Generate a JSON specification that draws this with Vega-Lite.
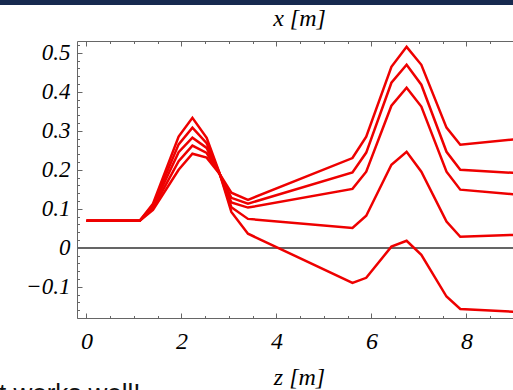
{
  "$schema": "https://vega.github.io/schema/vega-lite/v6.json",
  "width": 436,
  "height": 277,
  "autosize": {"type": "none"},
  "padding": {"left": 77, "top": 41, "right": 0, "bottom": 72},
  "background": "white",
  "title": {
    "text": "t works well!",
    "orient": "bottom",
    "anchor": "start",
    "frame": "group",
    "font": "Liberation Sans, Arial, sans-serif",
    "fontSize": 26,
    "fontWeight": "normal",
    "color": "#111111",
    "baseline": "alphabetic",
    "dx": -78,
    "offset": 13
  },
  "config": {
    "view": {"stroke": null},
    "axis": {
      "domainColor": "#666666",
      "tickColor": "#666666",
      "grid": false,
      "labelFont": "'Liberation Serif', 'Times New Roman', serif",
      "labelFontStyle": "italic",
      "labelColor": "#000000",
      "titleFont": "'Liberation Serif', 'Times New Roman', serif",
      "titleFontStyle": "italic",
      "titleFontWeight": "normal",
      "titleColor": "#000000",
      "titleFontSize": 24
    }
  },
  "data": {
    "values": [
      {"curve": "A", "z": 0, "x": 0.069}, {"curve": "A", "z": 1.12, "x": 0.069}, {"curve": "A", "z": 1.4, "x": 0.113}, {"curve": "A", "z": 1.94, "x": 0.285}, {"curve": "A", "z": 2.23, "x": 0.333}, {"curve": "A", "z": 2.53, "x": 0.282}, {"curve": "A", "z": 2.8, "x": 0.192}, {"curve": "A", "z": 3.05, "x": 0.092}, {"curve": "A", "z": 3.4, "x": 0.036}, {"curve": "A", "z": 5.6, "x": -0.09}, {"curve": "A", "z": 5.89, "x": -0.077}, {"curve": "A", "z": 6.42, "x": 0.003}, {"curve": "A", "z": 6.74, "x": 0.018}, {"curve": "A", "z": 7.05, "x": -0.018}, {"curve": "A", "z": 7.58, "x": -0.125}, {"curve": "A", "z": 7.87, "x": -0.157}, {"curve": "A", "z": 9.0, "x": -0.164},
      {"curve": "B", "z": 0, "x": 0.069}, {"curve": "B", "z": 1.12, "x": 0.069}, {"curve": "B", "z": 1.4, "x": 0.109}, {"curve": "B", "z": 1.94, "x": 0.265}, {"curve": "B", "z": 2.23, "x": 0.308}, {"curve": "B", "z": 2.53, "x": 0.268}, {"curve": "B", "z": 2.8, "x": 0.191}, {"curve": "B", "z": 3.05, "x": 0.104}, {"curve": "B", "z": 3.4, "x": 0.074}, {"curve": "B", "z": 5.6, "x": 0.051}, {"curve": "B", "z": 5.89, "x": 0.082}, {"curve": "B", "z": 6.42, "x": 0.213}, {"curve": "B", "z": 6.74, "x": 0.246}, {"curve": "B", "z": 7.05, "x": 0.195}, {"curve": "B", "z": 7.58, "x": 0.067}, {"curve": "B", "z": 7.87, "x": 0.028}, {"curve": "B", "z": 9.0, "x": 0.033},
      {"curve": "C", "z": 0, "x": 0.069}, {"curve": "C", "z": 1.12, "x": 0.069}, {"curve": "C", "z": 1.4, "x": 0.105}, {"curve": "C", "z": 1.94, "x": 0.245}, {"curve": "C", "z": 2.23, "x": 0.282}, {"curve": "C", "z": 2.53, "x": 0.256}, {"curve": "C", "z": 2.8, "x": 0.19}, {"curve": "C", "z": 3.05, "x": 0.116}, {"curve": "C", "z": 3.4, "x": 0.103}, {"curve": "C", "z": 5.6, "x": 0.151}, {"curve": "C", "z": 5.89, "x": 0.195}, {"curve": "C", "z": 6.42, "x": 0.364}, {"curve": "C", "z": 6.74, "x": 0.41}, {"curve": "C", "z": 7.05, "x": 0.362}, {"curve": "C", "z": 7.58, "x": 0.195}, {"curve": "C", "z": 7.87, "x": 0.149}, {"curve": "C", "z": 9.0, "x": 0.137},
      {"curve": "D", "z": 0, "x": 0.069}, {"curve": "D", "z": 1.12, "x": 0.069}, {"curve": "D", "z": 1.4, "x": 0.101}, {"curve": "D", "z": 1.94, "x": 0.222}, {"curve": "D", "z": 2.23, "x": 0.262}, {"curve": "D", "z": 2.53, "x": 0.243}, {"curve": "D", "z": 2.8, "x": 0.19}, {"curve": "D", "z": 3.05, "x": 0.128}, {"curve": "D", "z": 3.4, "x": 0.113}, {"curve": "D", "z": 5.6, "x": 0.193}, {"curve": "D", "z": 5.89, "x": 0.244}, {"curve": "D", "z": 6.42, "x": 0.423}, {"curve": "D", "z": 6.74, "x": 0.469}, {"curve": "D", "z": 7.05, "x": 0.418}, {"curve": "D", "z": 7.58, "x": 0.246}, {"curve": "D", "z": 7.87, "x": 0.2}, {"curve": "D", "z": 9.0, "x": 0.192},
      {"curve": "E", "z": 0, "x": 0.069}, {"curve": "E", "z": 1.12, "x": 0.069}, {"curve": "E", "z": 1.4, "x": 0.097}, {"curve": "E", "z": 1.94, "x": 0.2}, {"curve": "E", "z": 2.23, "x": 0.241}, {"curve": "E", "z": 2.53, "x": 0.231}, {"curve": "E", "z": 2.8, "x": 0.19}, {"curve": "E", "z": 3.05, "x": 0.141}, {"curve": "E", "z": 3.4, "x": 0.123}, {"curve": "E", "z": 5.6, "x": 0.23}, {"curve": "E", "z": 5.89, "x": 0.285}, {"curve": "E", "z": 6.42, "x": 0.464}, {"curve": "E", "z": 6.74, "x": 0.515}, {"curve": "E", "z": 7.05, "x": 0.469}, {"curve": "E", "z": 7.58, "x": 0.308}, {"curve": "E", "z": 7.87, "x": 0.264}, {"curve": "E", "z": 9.0, "x": 0.278}
    ]
  },
  "resolve": {"axis": {"x": "independent", "y": "independent"}},
  "layer": [
    {
      "mark": {"type": "rect", "color": "#172a4f", "clip": false},
      "encoding": {
        "x": {"datum": -3, "type": "quantitative", "scale": {"domain": [-0.2, 8.98], "nice": false, "zero": false}, "axis": null},
        "x2": {"datum": 12},
        "y": {"datum": 0.64, "type": "quantitative", "scale": {"domain": [-0.18, 0.53], "nice": false, "zero": false}, "axis": null},
        "y2": {"datum": 0.623}
      }
    },
    {
      "mark": {"type": "rule", "color": "#666666", "strokeWidth": 1},
      "encoding": {
        "y": {"datum": 0, "type": "quantitative", "axis": null}
      }
    },
    {
      "mark": {"type": "line", "color": "#ee0000", "strokeWidth": 2.5, "clip": true},
      "encoding": {
        "x": {
          "field": "z", "type": "quantitative",
          "axis": {
            "orient": "bottom",
            "title": "z [m]",
            "titleX": 222,
            "titleY": 66,
            "titleBaseline": "alphabetic",
            "titleAlign": "center",
            "values": [0, 0.5, 1, 1.5, 2, 2.5, 3, 3.5, 4, 4.5, 5, 5.5, 6, 6.5, 7, 7.5, 8, 8.5],
            "labelExpr": "datum.value % 2 === 0 ? format(datum.value, 'd') : ''",
            "labelFontSize": 24,
            "labelPadding": 16,
            "tickSize": {"condition": {"test": "datum.value % 2 === 0", "value": -5}, "value": -2.5},
            "labelFlush": false,
            "labelOverlap": false
          }
        },
        "y": {
          "field": "x", "type": "quantitative",
          "axis": {
            "orient": "left",
            "title": "x [m]",
            "titleAngle": 0,
            "titleX": 222,
            "titleY": -16,
            "titleAlign": "center",
            "titleBaseline": "alphabetic",
            "values": [-0.18, -0.16, -0.14, -0.12, -0.1, -0.08, -0.06, -0.04, -0.02, 0, 0.02, 0.04, 0.06, 0.08, 0.1, 0.12, 0.14, 0.16, 0.18, 0.2, 0.22, 0.24, 0.26, 0.28, 0.3, 0.32, 0.34, 0.36, 0.38, 0.4, 0.42, 0.44, 0.46, 0.48, 0.5, 0.52],
            "labelExpr": "abs(round(datum.value * 10) - datum.value * 10) < 0.001 ? (datum.value === 0 ? '0' : replace(format(datum.value, '.1f'), '-', '\u2212')) : ''",
            "labelFontSize": 23,
            "labelPadding": 12,
            "tickSize": {"condition": {"test": "abs(round(datum.value * 10) - datum.value * 10) < 0.001", "value": -5}, "value": -2.5},
            "labelFlush": false,
            "labelOverlap": false
          }
        },
        "detail": {"field": "curve", "type": "nominal"}
      }
    },
    {
      "mark": {"type": "rule", "opacity": 0},
      "encoding": {
        "x": {
          "datum": 0, "type": "quantitative",
          "axis": {
            "orient": "top",
            "title": null,
            "labels": false,
            "values": [0, 0.5, 1, 1.5, 2, 2.5, 3, 3.5, 4, 4.5, 5, 5.5, 6, 6.5, 7, 7.5, 8, 8.5],
            "tickSize": {"condition": {"test": "datum.value % 2 === 0", "value": -5}, "value": -2.5}
          }
        }
      }
    }
  ]
}
